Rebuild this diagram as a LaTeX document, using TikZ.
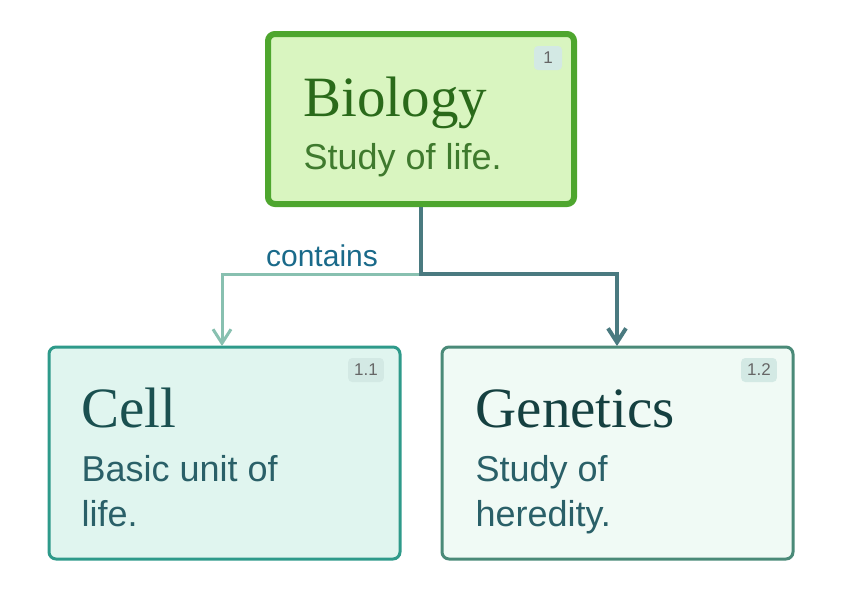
\documentclass[tikz,border=0pt]{standalone}
\usepackage{fontspec}
\setmainfont{Liberation Serif}
\setsansfont{Liberation Sans}
\usetikzlibrary{arrows.meta}
\definecolor{bioB}{HTML}{4EA62E}
\definecolor{bioF}{HTML}{D9F5C0}
\definecolor{bioT}{HTML}{2A6A1A}
\definecolor{bioS}{HTML}{3F7A2E}
\definecolor{cellB}{HTML}{2E9A8A}
\definecolor{cellF}{HTML}{E0F5EF}
\definecolor{genB}{HTML}{4A8A78}
\definecolor{genF}{HTML}{F0FAF5}
\definecolor{titT}{HTML}{1A5050}
\definecolor{txtT}{HTML}{2A6068}
\definecolor{lightE}{HTML}{88C0B0}
\definecolor{darkE}{HTML}{4A7A80}
\definecolor{lab}{HTML}{1A6A8A}
\definecolor{badge}{HTML}{D3E9E4}
\tikzset{
 box/.style={rounded corners=7pt},
 badgebox/.style={fill=badge,rounded corners=4pt,font=\sffamily\fontsize{17}{18}\selectfont,text=gray!80!black,minimum height=24pt,minimum width=28pt,inner xsep=6pt},
 ttl/.style={anchor=base west,font=\fontsize{57}{60}\selectfont},
 sub/.style={anchor=base west,font=\sffamily\fontsize{36}{38}\selectfont},
}
\begin{document}
\begin{tikzpicture}[x=1pt,y=-1pt]
\useasboundingbox (0,0) rectangle (842,595);
\draw[box,line width=6pt,draw=bioB,fill=bioF] (268,34) rectangle (574,204);
\node[badgebox] (b1) at (548,58) {1};
\node[ttl,text=bioT] (t1) at (300,116) {Biology};
\node[sub,text=bioS] (s1) at (300,169) {Study of life.};
\coordinate (bio) at (421,207);
\draw[box,line width=3pt,draw=cellB,fill=cellF] (49,347) rectangle (400,559);
\node[badgebox] (b2) at (366,370) {1.1};
\node[ttl,text=titT] (t2) at (78,427) {Cell};
\node[sub,text=txtT] (s2a) at (78,481) {Basic unit of};
\node[sub,text=txtT] (s2b) at (78,526) {life.};
\coordinate (cell) at (222,346);
\draw[box,line width=3pt,draw=genB,fill=genF] (442,347) rectangle (793,559);
\node[badgebox] (b3) at (759,370) {1.2};
\node[ttl,text=titT!80!black] (t3) at (472,427) {Genetics};
\node[sub,text=txtT] (s3a) at (472,481) {Study of};
\node[sub,text=txtT] (s3b) at (472,526) {heredity.};
\coordinate (gen) at (617,346);
\draw[lightE,line width=3pt,-{Straight Barb[length=14pt,width=18pt]}] (bio) |- (421,274) -| (cell);
\draw[darkE,line width=4pt,-{Straight Barb[length=14pt,width=18pt]}] (bio) |- (421,274) -| (gen);
\node[font=\sffamily\fontsize{30}{32}\selectfont,text=lab] (lbl) at (322,256) {contains};
\end{tikzpicture}
\end{document}
